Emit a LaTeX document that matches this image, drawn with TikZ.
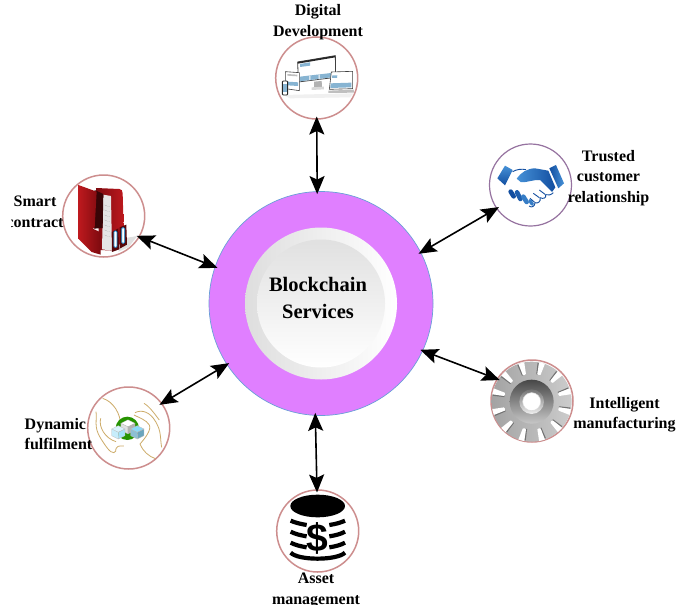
\documentclass[tikz,border=0pt]{standalone}
\usepackage{fontspec}
\setmainfont{Liberation Serif}
\newfontfamily\iconsans{Liberation Sans}
\usetikzlibrary{arrows.meta,shapes.geometric}
\definecolor{hubfill}{RGB}{224,127,255}
\definecolor{hubline}{RGB}{105,160,215}
\definecolor{ringred}{RGB}{205,142,142}
\definecolor{ringmix}{RGB}{150,115,160}
\definecolor{hsblue}{RGB}{18,78,160}
\definecolor{hslight}{RGB}{70,145,215}
\definecolor{tan1}{RGB}{205,172,105}
\definecolor{red1}{RGB}{190,25,30}
\definecolor{red2}{RGB}{125,10,15}
\definecolor{scrblue}{RGB}{135,180,210}
\tikzset{
  sat/.style={circle,draw=ringred,line width=1.5pt,fill=white,minimum size=82pt,inner sep=0pt,outer sep=-2.5pt},
  lab/.style={font=\bfseries\fontsize{16}{20.5}\selectfont,align=center,inner sep=0pt,text=black},
  link/.style={line width=1.6pt,{Stealth[length=18pt,width=15pt,inset=3.5pt]}-{Stealth[length=18pt,width=15pt,inset=3.5pt]}},
  screen/.style={fill=white,draw=black!75,line width=.6pt},
  band/.style={line width=4.2pt,line cap=butt},
  finger/.style={line width=4.6pt,line cap=round},
  hand/.style={draw=tan1,line width=.8pt},
}
\newcommand{\isocube}[6]{% x y size top left right
  \fill[#4,draw=black!25,line width=.3pt] (#1,#2) -- ++(#3,-.5*#3) -- ++(#3,.5*#3) -- ++(-#3,.5*#3) -- cycle;
  \fill[#5,draw=black!25,line width=.3pt] (#1,#2) -- ++(#3,.5*#3) -- ++(0,#3) -- ++(-#3,-.5*#3) -- cycle;
  \fill[#6,draw=black!25,line width=.3pt] ({#1+2*#3},#2) -- ++(-#3,.5*#3) -- ++(0,#3) -- ++(#3,-.5*#3) -- cycle;
}
\begin{document}
\begin{tikzpicture}[x=1pt,y=-1pt]
\useasboundingbox (0,0) rectangle (692,610);
\fill[white] (0,0) rectangle (692,610);

% hub
\node[circle,draw=hubline,line width=.7pt,fill=hubfill,minimum size=224pt,inner sep=0pt,outer sep=-2.5pt] (hub) at (321,303.5) {};
\node[circle,shade,shading angle=60,left color=black!13,right color=white,minimum size=152pt,inner sep=0pt] (hubring) at (321,303.5) {};
\node[circle,shade,top color=black!12,bottom color=white,minimum size=128pt,inner sep=0pt] (hubdisc) at (321,303.5) {};

% satellites
\node[sat] (digital) at (316.7,78) {};
\node[sat,draw=ringmix,line width=1.2pt] (trusted) at (530.5,185) {};
\node[sat] (smart) at (103.7,216) {};
\node[sat] (dynamic) at (128.7,428) {};
\node[sat] (intel) at (532,401) {};
\node[sat] (asset) at (317.7,531) {};

% ---- Digital icon
\begin{scope}[shift={(260,0)},x=.3333pt,y=-.3333pt]
  \fill[black!6] (70,285) -- (280,280) -- (270,292) -- (90,295) -- cycle;
  % stand
  \fill[black!30] (162,245) -- (185,243) -- (186,262) -- (162,262) -- cycle;
  \fill[black!15] (155,262) -- (192,260) -- (192,268) -- (155,270) -- cycle;
  % main monitor
  \filldraw[screen,line width=.8pt] (113,186) -- (226,167) -- (227,232) -- (115,246) -- cycle;
  \fill[black!85] (113,186) -- (226,167) -- (226,172) -- (113,191) -- cycle;
  \fill[scrblue] (120,192) -- (150,187) -- (150,197) -- (120,201) -- cycle;
  \fill[scrblue] (120,230) -- (222,218) -- (222,231) -- (120,244) -- cycle;
  \fill[white] (148,228) -- (151,228) -- (151,241) -- (148,241) -- cycle
               (176,224) -- (179,224) -- (179,238) -- (176,238) -- cycle;
  % tablet
  \filldraw[screen] (76,215) -- (118,218) -- (118,272) -- (76,266) -- cycle;
  \fill[scrblue] (82,245) -- (114,247) -- (114,258) -- (82,256) -- cycle;
  \fill[black!25] (82,222) -- (112,224) -- (112,229) -- (82,227) -- cycle;
  % phone
  \filldraw[fill=white,draw=black!85,line width=.9pt,rounded corners=1pt] (67,243) rectangle (83,285);
  \fill[scrblue] (70,253) rectangle (80,275);
  % laptop
  \filldraw[screen] (214,216) -- (278,214) -- (278,266) -- (208,268) -- cycle;
  \fill[scrblue] (217,226) -- (232,226) -- (231,234) -- (216,234) -- cycle;
  \fill[scrblue] (212,250) -- (274,248) -- (274,262) -- (211,264) -- cycle;
  \fill[black!25] (205,272) -- (281,269) -- (282,278) -- (205,279) -- cycle;
\end{scope}

% ---- Handshake icon
\begin{scope}[shift={(480,130)},x=.3333pt,y=-.3333pt]
  % light hand outlines
  \draw[hsblue,line width=.9pt,line join=round] (98,125) .. controls (110,118) and (125,116) .. (138,119);
  \draw[hsblue,line width=.9pt,line join=round] (220,188) .. controls (212,196) and (205,196) .. (197,194)
     .. controls (200,204) and (190,208) .. (180,203) .. controls (184,215) and (172,222) .. (165,218)
     .. controls (165,230) and (155,234) .. (147,228);
  \draw[hsblue,line width=.9pt] (195,193) -- (178,180) (178,203) -- (160,190) (164,217) -- (150,205);
  % dark hand
  \shade[left color=hslight,right color=hsblue] (110,146) .. controls (122,128) and (142,115) .. (165,115)
     -- (205,122) -- (226,172) -- (216,186) -- (180,150) .. controls (160,148) and (135,160) .. (122,156) -- cycle;
  % cuffs
  \shade[top color=hslight,bottom color=hsblue] (52,145) -- (75,107) -- (98,120) -- (75,166) -- cycle;
  \shade[left color=hsblue,right color=hslight] (208,115) -- (228,105) -- (252,160) -- (235,175) -- cycle;
  % fingers
  \draw[finger,hsblue] (92,185) -- (101,199);
  \draw[finger,hsblue!75!hslight] (111,187) -- (121,207);
  \draw[finger,hslight!70!hsblue] (130,200) -- (140,216);
  \draw[finger,line width=3.4pt,hslight!70!hsblue] (150,212) -- (157,223);
\end{scope}

% ---- Folder icon
\begin{scope}[shift={(0,160)},x=.3333pt,y=-.3333pt]
  \fill[black!12] (372,235) -- (412,228) -- (385,262) -- (355,275) -- cycle;
  \shade[left color=red2,right color=red1] (288,84) -- (358,87) .. controls (365,88) and (368,92) .. (368,100) -- (372,240) -- (340,272) -- (300,270) -- cycle;
  \fill[black!10] (310,104) -- (333,108) -- (336,272) -- (306,268) -- cycle;
  \draw[black!50,line width=.3pt,densely dotted] (312,135) -- (328,140) (312,150) -- (328,155) (312,165) -- (328,170) (312,180) -- (328,185) (312,195) -- (328,200) (312,210) -- (328,215) (312,225) -- (328,230);
  \fill[black!55!red2] (284,90) -- (310,102) -- (308,204) -- (282,206) -- cycle;
  \shade[left color=red1,right color=red2] (235,75) -- (290,95) -- (284,203) -- (278,206) -- (300,216) -- (302,284) -- (275,276) -- (235,236) -- cycle;
  \fill[red2!70!black] (336,216) -- (355,205) -- (358,268) -- (336,276) -- cycle;
  \fill[red2!70!black] (359,202) -- (379,194) -- (381,254) -- (359,266) -- cycle;
  \filldraw[fill=white,draw=cyan!70!blue,line width=.7pt,rounded corners=1pt] (342,213) rectangle (351,262);
  \filldraw[fill=white,draw=cyan!70!blue,line width=.7pt,rounded corners=1pt] (365,203) rectangle (374,250);
\end{scope}

% ---- Hands and cubes icon
\begin{scope}[shift={(10,370)},x=.3333pt,y=-.3333pt]
  \draw[hand] (278,85) .. controls (310,95) and (332,130) .. (333,170);
  \draw[hand] (258,125) .. controls (262,150) and (250,170) .. (272,205) .. controls (285,225) and (300,250) .. (312,248) .. controls (325,245) and (305,225) .. (342,228);
  \draw[hand] (272,145) .. controls (265,170) and (285,205) .. (318,215);
  \draw[hand] (375,128) .. controls (395,118) and (420,125) .. (437,155) .. controls (455,185) and (450,205) .. (455,232);
  \draw[hand] (402,100) .. controls (420,110) and (440,140) .. (448,150);
  \draw[hand] (372,135) .. controls (385,142) and (410,150) .. (418,165) .. controls (425,180) and (405,205) .. (390,222) .. controls (400,245) and (415,258) .. (436,266);
  \fill[green!50!black!85!yellow] (352,175) circle (35);
  \isocube{333}{160}{21}{white}{black!12}{black!30}
  \isocube{305}{177}{20}{cyan!15}{cyan!22}{cyan!35}
  \isocube{362}{177}{20}{cyan!45!white}{cyan!50!gray!70}{cyan!45!gray}
\end{scope}

% ---- Gear icon
\begin{scope}[shift={(480,350)},x=.3333pt,y=-.3333pt]
  \shade[left color=black!36,right color=black!20] (155,155) circle (120);
  \foreach \a in {15,45,...,345}{
    \fill[black!55,rotate around={\a:(155,155)}] (150,72) -- (146,38) -- (142,38) -- (147,72) -- cycle;
    \fill[white,rotate around={\a:(155,155)}] (146,35) -- (164,35) -- (160,70) .. controls (157,73) and (153,73) .. (150,70) -- cycle;
  }
  \shade[top color=black!72,bottom color=black!22] (155,155) circle (66);
  \shade[top color=black!55,bottom color=black!6] (155,155) circle (37);
  \filldraw[fill=white,draw=black!15,line width=.5pt] (155,155) circle (27);
\end{scope}

% ---- Database icon
\begin{scope}[shift={(260,480)},x=.3333pt,y=-.3333pt]
  \fill[black] (173,78) ellipse [x radius=82,y radius=34];
  \draw[band] (92,122) .. controls (105,128) and (122,132) .. (140,135);
  \draw[band] (255,122) .. controls (242,128) and (228,132) .. (208,135);
  \draw[band] (92,155) .. controls (105,162) and (122,166) .. (140,169);
  \draw[band] (255,155) .. controls (242,162) and (228,166) .. (208,169);
  \draw[band] (92,188) .. controls (105,195) and (122,199) .. (140,202);
  \draw[band] (255,188) .. controls (242,195) and (228,199) .. (208,202);
  \draw[band] (92,218) .. controls (115,242) and (230,242) .. (255,218);
  \node[font=\iconsans\bfseries\fontsize{39}{39}\selectfont,inner sep=0pt] (dollar) at (173,175) {\$};
\end{scope}

% labels
\node[font=\bfseries\fontsize{20.5}{26.5}\selectfont,align=center,inner sep=0pt] (hublabel) at (318,298) {Blockchain\\Services};
\node[lab] (labdigital) at (318,22) {Digital\\Development};
\node[lab] (labtrusted) at (608.5,178) {Trusted\\customer\\relationship};
\node[lab] (labsmart) at (35,212) {Smart\\contract};
\node[lab,align=left] (labdynamic) at (58.5,434) {Dynamic\\fulfilment};
\node[lab] (labintel) at (624.5,414.5) {Intelligent\\manufacturing};
\node[lab] (labasset) at (316,590.5) {Asset\\management};

% the reference crops these two labels
\fill[white] (0,195) rectangle (10.5,240);
\fill[white] (250,604.5) rectangle (400,610);

% connectors
\draw[link] (hub.92.2) -- (digital.south);
\draw[link] (hub.27.3) -- (trusted.215.8);
\draw[link] (hub.161.5) -- (smart.-31.2);
\draw[link] (hub.213.8) -- (dynamic.37.8);
\draw[link] (hub.-25) -- (intel.147);
\draw[link] (hub.267.8) -- (asset.91.2);
\end{tikzpicture}
\end{document}
